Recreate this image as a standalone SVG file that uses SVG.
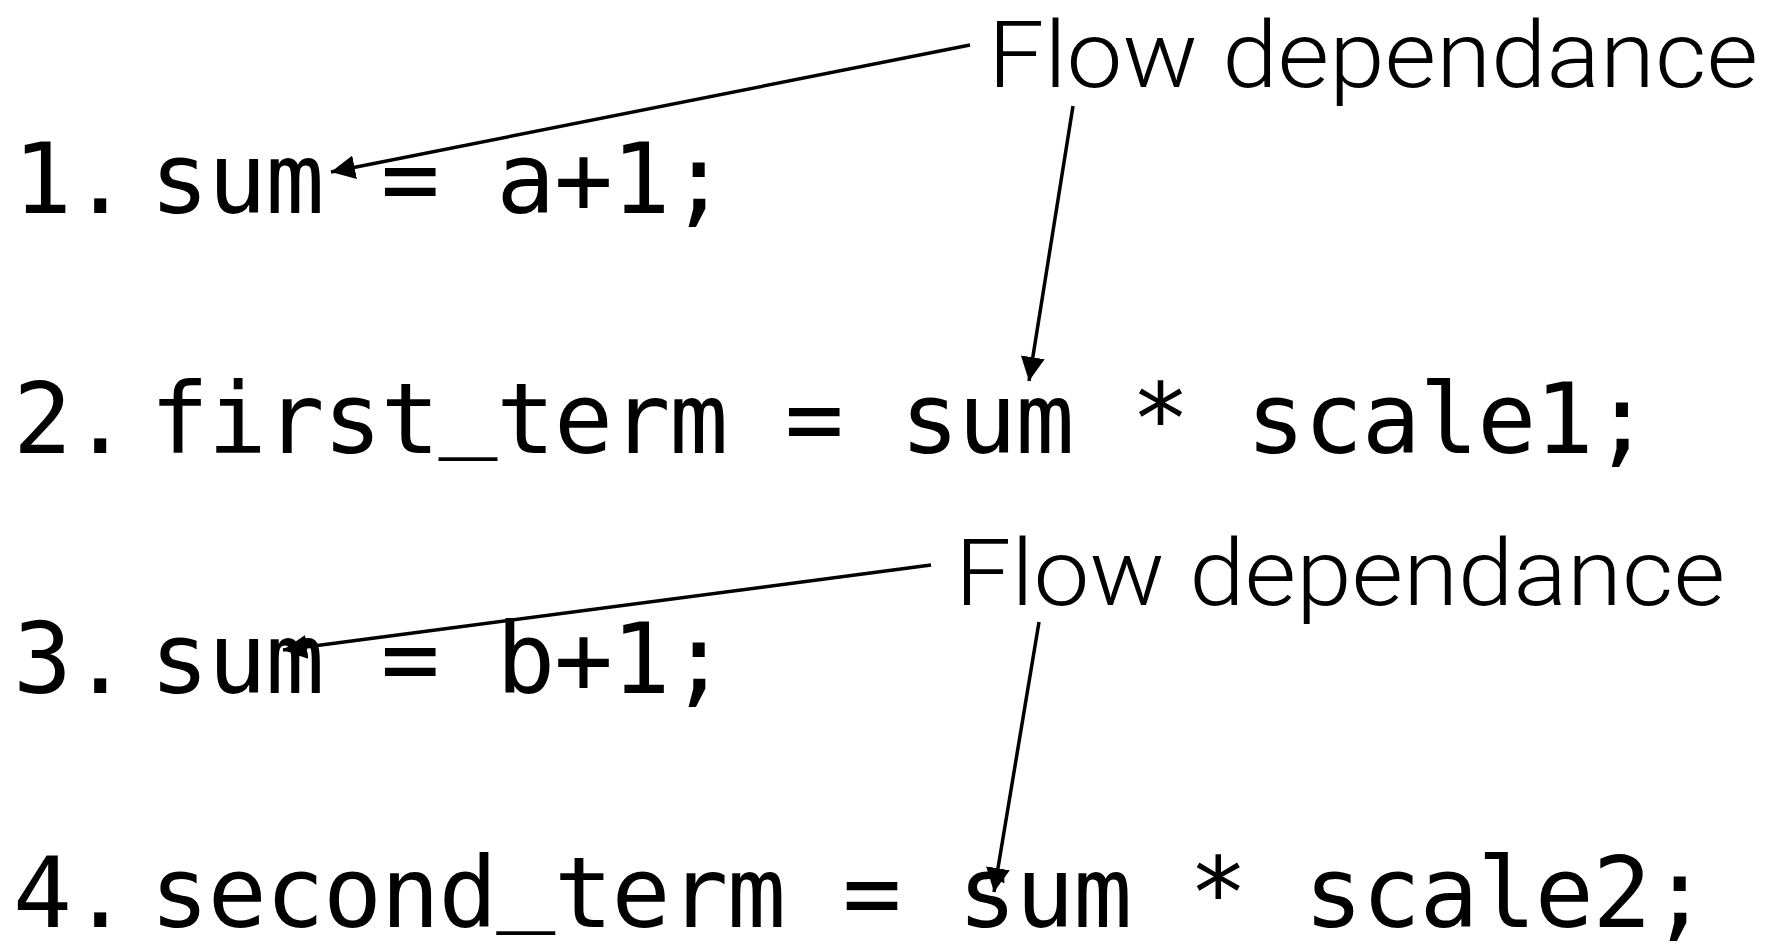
<svg xmlns="http://www.w3.org/2000/svg" width="1774" height="950" viewBox="0 0 1774 950">
<style>
.code{font-family:"DejaVu Sans Mono","Liberation Mono",monospace;font-size:98px;letter-spacing:-1.3px;fill:#000}
.lbl{font-family:Roboto,"Liberation Sans",sans-serif;font-weight:300;font-size:93px;fill:#000}
.conn{stroke:#000;stroke-width:3.5;fill:none}
</style>
<defs>
<marker id="ah" markerUnits="userSpaceOnUse" markerWidth="26" markerHeight="24" refX="24" refY="12" orient="auto">
<path d="M0,0 L24,12 L0,24 Z" fill="#000"/>
</marker>
</defs>
<rect width="1774" height="950" fill="#fff"/>
<g id="line1">
<text class="code" x="13" y="213">1.</text>
<text class="code" x="150" y="213">sum = a+1;</text>
</g>
<g id="line2">
<text class="code" x="13" y="453">2.</text>
<text class="code" x="150" y="453">first<tspan dy="-15">_</tspan><tspan dy="15">term = sum * scale1;</tspan></text>
</g>
<g id="line3">
<text class="code" x="13" y="693">3.</text>
<text class="code" x="150" y="693">sum = b+1;</text>
</g>
<g id="line4">
<text class="code" x="13" y="927">4.</text>
<text class="code" x="150" y="927">second<tspan dy="-15">_</tspan><tspan dy="15">term = sum * scale2;</tspan></text>
</g>
<g id="label1">
<text class="lbl" x="988" y="87" textLength="770" lengthAdjust="spacingAndGlyphs">Flow dependance</text>
</g>
<g id="label2">
<text class="lbl" x="955" y="605" textLength="770" lengthAdjust="spacingAndGlyphs">Flow dependance</text>
</g>
<g id="connectors">
<line class="conn" x1="970" y1="45" x2="331" y2="172" marker-end="url(#ah)"/>
<line class="conn" x1="1073" y1="106" x2="1029" y2="381" marker-end="url(#ah)"/>
<line class="conn" x1="931" y1="565" x2="283" y2="650" marker-end="url(#ah)"/>
<line class="conn" x1="1039" y1="622" x2="994" y2="892" marker-end="url(#ah)"/>
</g>
</svg>
